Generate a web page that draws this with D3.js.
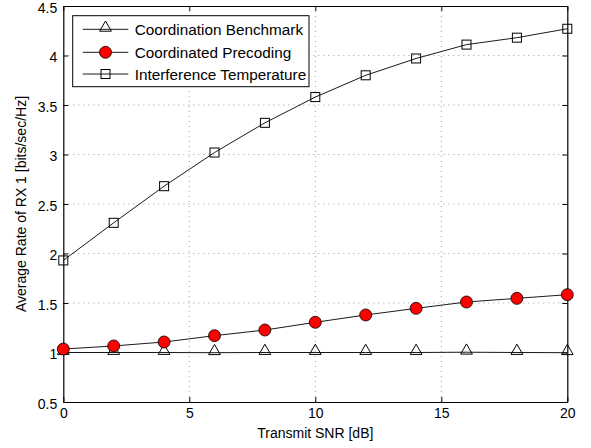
<!DOCTYPE html>
<html>
<head>
<meta charset="utf-8">
<script src="https://cdn.jsdelivr.net/npm/d3@7"></script>
<style>
  body { margin: 0; background: #fff; }
  text { font-family: "Liberation Sans", Arial, sans-serif; }
</style>
</head>
<body>
<svg id="chart" width="591" height="448"></svg>
<script>
// data
const snr = [0, 2, 4, 6, 8, 10, 12, 14, 16, 18, 20];
const benchmark = [1.0, 1.0, 1.0, 0.998, 1.0, 1.0, 1.0, 1.0, 1.003, 1.0, 0.998];
const precoding = [1.035, 1.066, 1.106, 1.17, 1.227, 1.305, 1.379, 1.446, 1.51, 1.547, 1.584];
const interference = [1.93, 2.31, 2.68, 3.02, 3.32, 3.58, 3.80, 3.97, 4.11, 4.18, 4.27];
const xTicks = [0, 5, 10, 15, 20];
const yTicks = [0.5, 1, 1.5, 2, 2.5, 3, 3.5, 4, 4.5];
const seriesNames = ["Coordination Benchmark", "Coordinated Precoding", "Interference Temperature"];

const svg = d3.select("#chart");
const pLeft = 63.3, pRight = 567.3, pTop = 6, pBottom = 402;

const x = d3.scaleLinear().domain([0, 20]).range([pLeft, pRight]);
const y = d3.scaleLinear().domain([0.5, 4.5]).range([pBottom, pTop]);

// dotted grid
const grid = svg.append("g").attr("stroke", "#888").attr("stroke-width", 0.8)
  .attr("stroke-dasharray", "1,4");
xTicks.slice(1, -1).forEach(t => {
  grid.append("line").attr("x1", x(t)).attr("x2", x(t)).attr("y1", pTop).attr("y2", pBottom);
});
yTicks.slice(1, -1).forEach(t => {
  grid.append("line").attr("x1", pLeft).attr("x2", pRight).attr("y1", y(t)).attr("y2", y(t));
});

// axes with inward ticks
const fmt = d => String(d);
svg.append("g").attr("transform", `translate(0,${pBottom})`)
  .call(d3.axisBottom(x).tickValues(xTicks).tickFormat(fmt).tickSizeInner(-5).tickSizeOuter(0).tickPadding(6));
svg.append("g").attr("transform", `translate(0,${pTop})`)
  .call(d3.axisTop(x).tickValues(xTicks).tickFormat("").tickSizeInner(-5).tickSizeOuter(0));
const yAxisG = svg.append("g").attr("transform", `translate(${pLeft},0)`)
  .call(d3.axisLeft(y).tickValues(yTicks).tickFormat(fmt).tickSizeInner(-5).tickSizeOuter(0).tickPadding(6));
yAxisG.selectAll(".tick text").attr("dy", "0.45em");
svg.append("g").attr("transform", `translate(${pRight},0)`)
  .call(d3.axisRight(y).tickValues(yTicks).tickFormat("").tickSizeInner(-5).tickSizeOuter(0));
svg.selectAll(".domain").attr("stroke", "#000").attr("stroke-width", 1.2);
svg.selectAll(".tick line").attr("stroke", "#000");
svg.selectAll(".tick text").attr("font-size", 14).attr("fill", "#000")
  .attr("font-family", "'Liberation Sans', Arial, sans-serif");

// axis labels
svg.append("text").attr("x", (pLeft + pRight) / 2).attr("y", 438).attr("text-anchor", "middle")
  .attr("font-size", 14).text("Transmit SNR [dB]");
svg.append("text").attr("transform", `translate(26,${(pTop + pBottom) / 2}) rotate(-90)`)
  .attr("text-anchor", "middle").attr("font-size", 14).text("Average Rate of RX 1 [bits/sec/Hz]");

// markers
const tri = d3.symbol().type(d3.symbolTriangle).size(60);
function drawMarker(g, kind, cx, cy) {
  if (kind === 0) {
    g.append("path").attr("d", tri()).attr("transform", `translate(${cx},${cy - 1.5})`)
      .attr("fill", "none").attr("stroke", "#000").attr("stroke-width", 1);
  } else if (kind === 1) {
    g.append("circle").attr("cx", cx).attr("cy", cy).attr("r", 6)
      .attr("fill", "#ff0000").attr("stroke", "#000").attr("stroke-width", 0.8);
  } else {
    g.append("rect").attr("x", cx - 4.5).attr("y", cy - 4.5).attr("width", 9).attr("height", 9)
      .attr("fill", "none").attr("stroke", "#000").attr("stroke-width", 1);
  }
}

const line = d3.line().x(d => x(d[0])).y(d => y(d[1]));
const allSeries = [benchmark, precoding, interference];
allSeries.forEach((vals, i) => {
  const pts = snr.map((s, j) => [s, vals[j]]);
  const g = svg.append("g");
  g.append("path").datum(pts).attr("d", line).attr("fill", "none")
    .attr("stroke", "#000").attr("stroke-width", 0.9);
  pts.forEach(p => drawMarker(g, i, x(p[0]), y(p[1])));
});

// legend
const lg = svg.append("g");
lg.append("rect").attr("x", 72.7).attr("y", 15.7).attr("width", 236.3).attr("height", 71)
  .attr("fill", "#fff").attr("stroke", "#000").attr("stroke-width", 1);
const rowY = [29.3, 52.3, 74];
seriesNames.forEach((name, i) => {
  lg.append("line").attr("x1", 82.7).attr("x2", 128.3).attr("y1", rowY[i]).attr("y2", rowY[i])
    .attr("stroke", "#000").attr("stroke-width", 0.9);
  drawMarker(lg, i, 105.5, rowY[i]);
  lg.append("text").attr("x", 134.7).attr("y", rowY[i] + 5.5).attr("font-size", 15.3).text(name);
});
</script>
</body>
</html>
